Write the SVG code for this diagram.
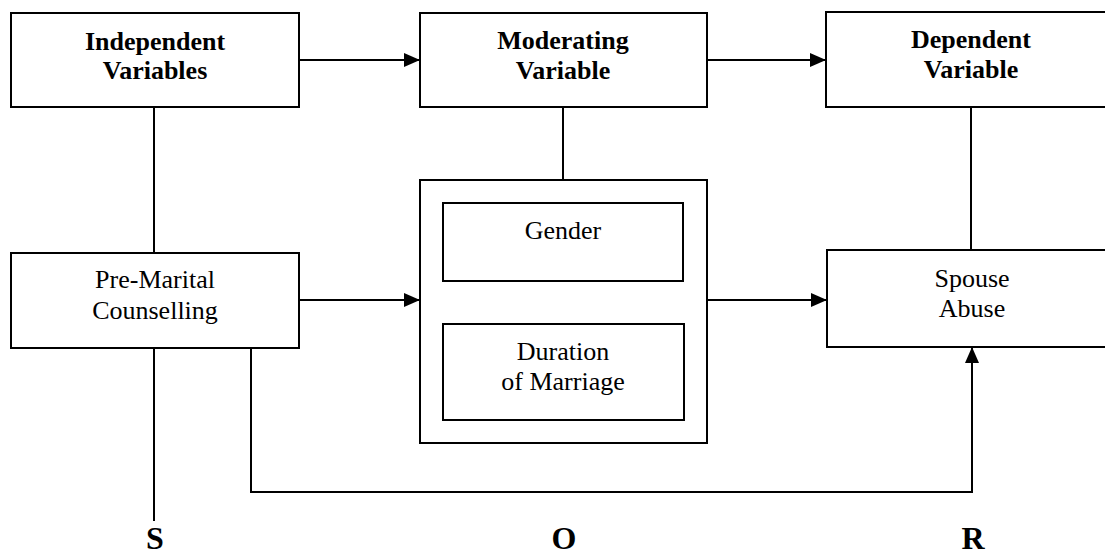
<svg xmlns="http://www.w3.org/2000/svg" width="1105" height="558" viewBox="0 0 1105 558">
<style>
.box{fill:#fff;stroke:#000;stroke-width:2}
.ln{fill:none;stroke:#000;stroke-width:2}
.t{font-family:"Liberation Serif","Times New Roman",serif;font-size:26px;text-anchor:middle;fill:#000}
.b{font-weight:bold}
.big{font-size:32px}
</style>
<defs>
<marker id="ah" viewBox="0 0 16 14" refX="16" refY="7" markerWidth="16" markerHeight="14" markerUnits="userSpaceOnUse" orient="auto">
<path d="M0,0 L16,7 L0,14 Z" fill="#000"/>
</marker>
</defs>
<g id="connectors">
<line class="ln" x1="299" y1="60" x2="420" y2="60" marker-end="url(#ah)"/>
<line class="ln" x1="707" y1="60" x2="826" y2="60" marker-end="url(#ah)"/>
<line class="ln" x1="154" y1="107" x2="154" y2="253"/>
<line class="ln" x1="563" y1="107" x2="563" y2="180"/>
<line class="ln" x1="971" y1="107" x2="971" y2="250"/>
<line class="ln" x1="299" y1="300" x2="420" y2="300" marker-end="url(#ah)"/>
<line class="ln" x1="707" y1="300" x2="827" y2="300" marker-end="url(#ah)"/>
<line class="ln" x1="154" y1="348" x2="154" y2="521"/>
<polyline class="ln" points="251,348 251,492 972,492 972,347" marker-end="url(#ah)"/>
</g>
<g id="independent">
<rect class="box" x="11" y="13" width="288" height="94"/>
<text class="t b" x="155" y="50">Independent</text>
<text class="t b" x="155" y="79">Variables</text>
</g>
<g id="moderating">
<rect class="box" x="420" y="13" width="287" height="94"/>
<text class="t b" x="563" y="49">Moderating</text>
<text class="t b" x="563" y="79">Variable</text>
</g>
<g id="dependent">
<rect class="box" x="826" y="12" width="290" height="95"/>
<text class="t b" x="971" y="48">Dependent</text>
<text class="t b" x="971" y="78">Variable</text>
</g>
<g id="premarital">
<rect class="box" x="11" y="253" width="288" height="95"/>
<text class="t" x="155" y="288">Pre-Marital</text>
<text class="t" x="155" y="319">Counselling</text>
</g>
<g id="moderators">
<rect class="box" x="420" y="180" width="287" height="263"/>
</g>
<g id="gender">
<rect class="box" x="443" y="203" width="240" height="78"/>
<text class="t" x="563" y="239">Gender</text>
</g>
<g id="duration">
<rect class="box" x="443" y="324" width="241" height="96"/>
<text class="t" x="563" y="360">Duration</text>
<text class="t" x="563" y="390">of Marriage</text>
</g>
<g id="spouse">
<rect class="box" x="827" y="250" width="290" height="97"/>
<text class="t" x="972" y="287">Spouse</text>
<text class="t" x="972" y="317">Abuse</text>
</g>
<g id="sor">
<text class="t b big" x="155" y="549">S</text>
<text class="t b big" x="564" y="549">O</text>
<text class="t b big" x="973" y="549">R</text>
</g>
</svg>
